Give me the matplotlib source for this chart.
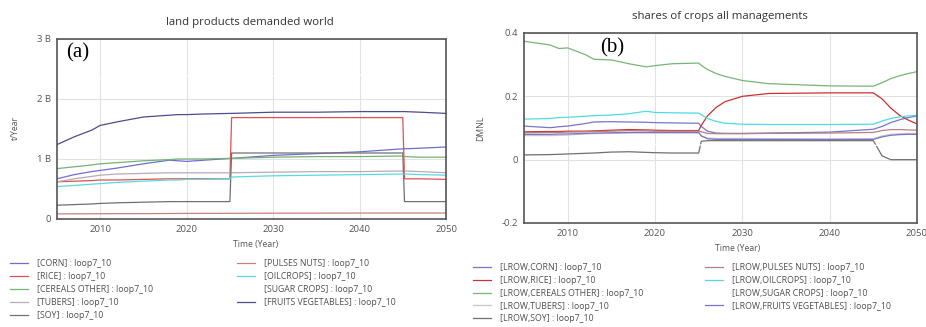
import matplotlib
matplotlib.use("Agg")
import matplotlib.pyplot as plt

plt.rcParams['font.family'] = ['Open Sans', 'DejaVu Sans']

# ---------------- panel (a): land products demanded world (t/Year, billions) -------------
a_years = [2005, 2007, 2009, 2010, 2012, 2015, 2018, 2019, 2020, 2022,
           2025, 2025.2, 2030, 2035, 2040, 2045, 2045.2, 2047, 2050]
a_corn = [0.67, 0.74, 0.79, 0.81, 0.85, 0.92, 0.98, 0.97, 0.96, 0.98,
          1.01, 1.01, 1.06, 1.09, 1.12, 1.17, 1.17, 1.18, 1.20]
a_rice = [0.62, 0.63, 0.64, 0.65, 0.65, 0.66, 0.67, 0.67, 0.67, 0.67,
          0.67, 1.69, 1.69, 1.69, 1.69, 1.69, 0.67, 0.67, 0.66]
a_cereals = [0.84, 0.87, 0.90, 0.92, 0.94, 0.97, 0.99, 1.00, 1.00, 1.00,
             1.01, 1.01, 1.03, 1.04, 1.04, 1.05, 1.04, 1.03, 1.03]
a_tubers = [0.62, 0.67, 0.71, 0.73, 0.75, 0.76, 0.77, 0.77, 0.77, 0.77,
            0.77, 0.77, 0.78, 0.79, 0.79, 0.80, 0.80, 0.79, 0.77]
a_soy = [0.23, 0.24, 0.25, 0.26, 0.27, 0.28, 0.29, 0.29, 0.29, 0.29,
         0.29, 1.10, 1.10, 1.10, 1.10, 1.10, 0.29, 0.29, 0.29]
a_pulses = [0.085, 0.086, 0.087, 0.088, 0.089, 0.090, 0.092, 0.093, 0.093, 0.094,
            0.095, 0.095, 0.097, 0.098, 0.099, 0.100, 0.100, 0.100, 0.100]
a_oilcrops = [0.54, 0.56, 0.58, 0.59, 0.61, 0.63, 0.65, 0.65, 0.66, 0.66,
              0.67, 0.70, 0.72, 0.73, 0.74, 0.75, 0.75, 0.74, 0.73]
a_sugar = [2.30, 2.32, 2.33, 2.34, 2.35, 2.36, 2.37, 2.37, 2.38, 2.38,
           2.38, 2.38, 2.39, 2.39, 2.40, 2.40, 2.40, 2.40, 2.40]
a_fruits = [1.24, 1.37, 1.48, 1.56, 1.62, 1.70, 1.73, 1.74, 1.74, 1.75,
            1.76, 1.76, 1.78, 1.78, 1.79, 1.79, 1.79, 1.78, 1.76]

a_labels = ["[CORN] : loop7_10", "[RICE] : loop7_10", "[CEREALS OTHER] : loop7_10",
            "[TUBERS] : loop7_10", "[SOY] : loop7_10", "[PULSES NUTS] : loop7_10",
            "[OILCROPS] : loop7_10", "[SUGAR CROPS] : loop7_10",
            "[FRUITS VEGETABLES] : loop7_10"]
a_colors = ["#6e6ed0", "#e05050", "#74b274", "#b8aab8", "#707070",
            "#c88080", "#55dbe2", "#ffffff", "#4c4c8e"]
a_yticks = [0, 1, 2, 3]
a_yticklabels = ["0", "1 B", "2 B", "3 B"]

# ---------------- panel (b): shares of crops all managements (DMNL) ----------------------
b_years = [2005, 2008, 2009, 2010, 2012, 2013, 2015, 2017, 2019, 2020, 2022,
           2025, 2025.3, 2026, 2027, 2028, 2030, 2033, 2040, 2045, 2046,
           2047, 2048, 2049, 2050]
b_corn = [0.106, 0.101, 0.104, 0.106, 0.114, 0.119, 0.120, 0.119, 0.118, 0.117, 0.116,
          0.115, 0.105, 0.090, 0.084, 0.083, 0.083, 0.084, 0.087, 0.096, 0.105,
          0.117, 0.126, 0.133, 0.138]
b_rice = [0.088, 0.089, 0.089, 0.090, 0.090, 0.091, 0.093, 0.095, 0.094, 0.093, 0.092,
          0.092, 0.108, 0.138, 0.165, 0.183, 0.200, 0.209, 0.211, 0.211, 0.192,
          0.163, 0.140, 0.125, 0.113]
b_cereals = [0.374, 0.362, 0.351, 0.353, 0.332, 0.317, 0.315, 0.303, 0.293, 0.297, 0.303,
             0.305, 0.298, 0.285, 0.272, 0.263, 0.250, 0.240, 0.233, 0.232, 0.243,
             0.256, 0.265, 0.272, 0.278]
b_tubers = [0.076, 0.076, 0.077, 0.078, 0.081, 0.082, 0.083, 0.084, 0.084, 0.084, 0.084,
            0.084, 0.075, 0.068, 0.067, 0.067, 0.067, 0.066, 0.065, 0.066, 0.075,
            0.080, 0.082, 0.083, 0.083]
b_soy = [0.015, 0.016, 0.017, 0.018, 0.020, 0.021, 0.024, 0.025, 0.023, 0.022, 0.021,
         0.021, 0.058, 0.060, 0.060, 0.060, 0.060, 0.060, 0.060, 0.060, 0.012,
         0.000, 0.000, 0.000, 0.000]
b_pulses = [0.085, 0.086, 0.086, 0.087, 0.088, 0.089, 0.090, 0.092, 0.091, 0.090, 0.090,
            0.090, 0.088, 0.083, 0.082, 0.082, 0.082, 0.083, 0.084, 0.086, 0.092,
            0.095, 0.095, 0.094, 0.093]
b_oilcrops = [0.128, 0.130, 0.133, 0.134, 0.137, 0.139, 0.141, 0.145, 0.153, 0.149, 0.148,
              0.147, 0.142, 0.130, 0.121, 0.115, 0.112, 0.111, 0.111, 0.112, 0.122,
              0.130, 0.135, 0.138, 0.140]
b_sugar = [0.045, 0.045, 0.045, 0.046, 0.046, 0.046, 0.047, 0.047, 0.047, 0.047, 0.047,
           0.047, 0.046, 0.045, 0.045, 0.045, 0.045, 0.045, 0.045, 0.045, 0.046,
           0.047, 0.047, 0.047, 0.047]
b_fruits = [0.080, 0.080, 0.081, 0.081, 0.083, 0.084, 0.085, 0.086, 0.086, 0.086, 0.086,
            0.086, 0.075, 0.066, 0.064, 0.064, 0.064, 0.064, 0.064, 0.064, 0.072,
            0.077, 0.079, 0.080, 0.080]

b_labels = ["[LROW,CORN] : loop7_10", "[LROW,RICE] : loop7_10",
            "[LROW,CEREALS OTHER] : loop7_10", "[LROW,TUBERS] : loop7_10",
            "[LROW,SOY] : loop7_10", "[LROW,PULSES NUTS] : loop7_10",
            "[LROW,OILCROPS] : loop7_10", "[LROW,SUGAR CROPS] : loop7_10",
            "[LROW,FRUITS VEGETABLES] : loop7_10"]
b_colors = ["#7676cc", "#cc3030", "#78b478", "#c6c6c6", "#707070",
            "#b88080", "#4cdde2", "#ffffff", "#7c72c8"]
b_yticks = [-0.2, 0, 0.2, 0.4]
b_yticklabels = ["-0.2", "0", "0.2", "0.4"]

x_ticks = [2010, 2020, 2030, 2040, 2050]

W, H = 926, 327
fig = plt.figure(figsize=(W / 100, H / 100), dpi=100)


def px_rect(x0, y0, x1, y1):
    return [x0 / W, 1 - y1 / H, (x1 - x0) / W, (y1 - y0) / H]


TICK_COLOR = "#555555"


def style_axes(ax, yticks, yticklabels, ylim):
    ax.set_xlim(2005, 2050)
    ax.set_ylim(*ylim)
    ax.set_xticks(x_ticks)
    ax.set_yticks(yticks)
    ax.set_yticklabels(yticklabels)
    ax.tick_params(axis="both", labelsize=6.8, colors=TICK_COLOR, length=0, pad=4)
    ax.grid(True, color="#e2e2e2", linewidth=0.8)
    ax.set_axisbelow(True)
    for sp in ax.spines.values():
        sp.set_color("#555555")
        sp.set_linewidth(1.2)


ax_a = fig.add_axes(px_rect(57, 39, 446, 219))
ax_b = fig.add_axes(px_rect(524, 33, 917, 223))

a_series = [a_corn, a_rice, a_cereals, a_tubers, a_soy, a_pulses, a_oilcrops, a_sugar, a_fruits]
b_series = [b_corn, b_rice, b_cereals, b_tubers, b_soy, b_pulses, b_oilcrops, b_sugar, b_fruits]

a_lines = [ax_a.plot(a_years, v, color=c, lw=0.9, label=l)[0]
           for v, c, l in zip(a_series, a_colors, a_labels)]
b_lines = [ax_b.plot(b_years, v, color=c, lw=0.9, label=l)[0]
           for v, c, l in zip(b_series, b_colors, b_labels)]

style_axes(ax_a, a_yticks, a_yticklabels, (0, 3))
style_axes(ax_b, b_yticks, b_yticklabels, (-0.2, 0.4))

# titles and axis labels
fig.text(250 / W, 1 - 22 / H, "land products demanded world", ha="center", va="center",
         fontsize=8.2, color="#333333")
fig.text(720 / W, 1 - 17 / H, "shares of crops all managements", ha="center", va="center",
         fontsize=8.2, color="#333333")
fig.text(15 / W, 1 - 128 / H, "t/Year", rotation=90, ha="center", va="center",
         fontsize=6.2, color=TICK_COLOR)
fig.text(481 / W, 1 - 128 / H, "DMNL", rotation=90, ha="center", va="center",
         fontsize=6.2, color=TICK_COLOR)
fig.text(256 / W, 1 - 245 / H, "Time (Year)", ha="center", va="center",
         fontsize=6.2, color=TICK_COLOR)
fig.text(738 / W, 1 - 249 / H, "Time (Year)", ha="center", va="center",
         fontsize=6.2, color=TICK_COLOR)

# panel tags
ax_a.text(2006.0, 2.77, "(a)", fontsize=15, family="Liberation Serif",
          ha="left", va="center", color="black")
ax_b.text(2013.7, 0.352, "(b)", fontsize=15, family="Liberation Serif",
          ha="left", va="center", color="black")


def add_legend(handles, x_px, y_px):
    leg = fig.legend(handles=handles, loc="upper left",
                     bbox_to_anchor=(x_px / W, 1 - y_px / H),
                     frameon=False, fontsize=6.3, handlelength=2.05, handletextpad=1.0,
                     labelspacing=0.44, borderpad=0, borderaxespad=0)
    for t in leg.get_texts():
        t.set_color("#505050")
    return leg


add_legend(a_lines[:5], 10, 259.5)
add_legend(a_lines[5:], 237, 259.5)
add_legend(b_lines[:5], 473, 263)
add_legend(b_lines[5:], 705, 263)

fig.savefig("out.png", dpi=100, facecolor="white")
